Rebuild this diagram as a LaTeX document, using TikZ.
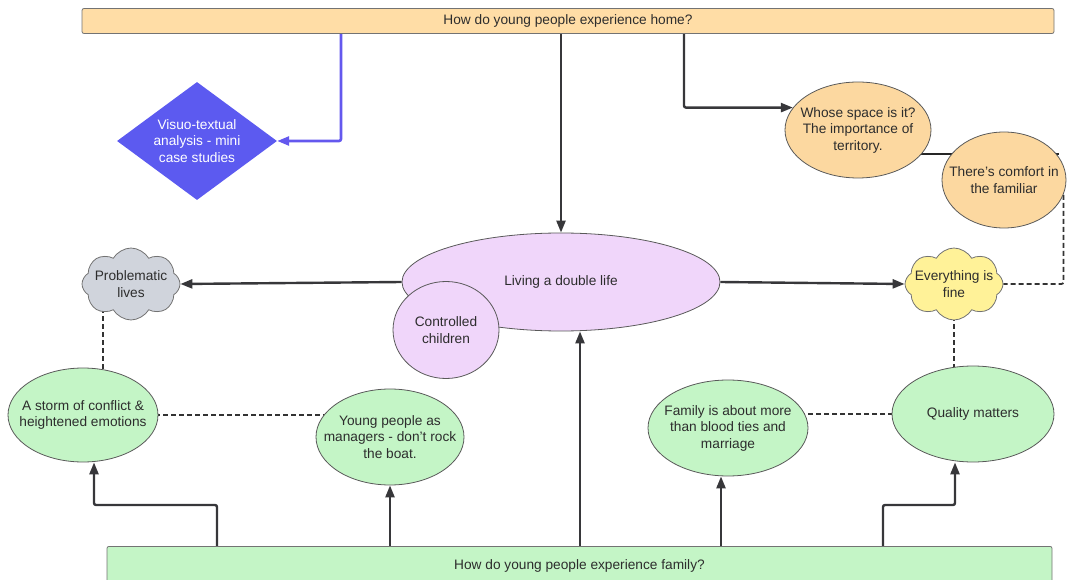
\documentclass[tikz,border=0pt]{standalone}
\usepackage{fontspec}
\setmainfont{Liberation Sans}
\usetikzlibrary{shapes.geometric,shapes.symbols,arrows.meta,backgrounds}
\definecolor{barorange}{RGB}{255,221,166}
\definecolor{ellorange}{RGB}{252,216,160}
\definecolor{diablue}{RGB}{92,90,240}
\definecolor{lineblue}{RGB}{100,88,238}
\definecolor{purp}{RGB}{240,214,250}
\definecolor{greenfill}{RGB}{196,245,198}
\definecolor{cloudgray}{RGB}{208,212,220}
\definecolor{cloudyellow}{RGB}{255,242,152}
\definecolor{txt}{RGB}{45,45,45}
\definecolor{lin}{RGB}{55,55,58}
\tikzset{
  box/.style={draw=black!55, line width=0.8pt, rounded corners=2pt, inner sep=0pt, text=txt},
  ell/.style={ellipse, draw=black!65, line width=0.8pt, inner xsep=-30pt, inner ysep=0pt, align=center, text=txt},
  cld/.style={cloud, cloud puffs=8, cloud puff arc=120, aspect=1.35, draw=black!55, line width=0.8pt, inner xsep=-14pt, inner ysep=-5pt, align=center, text=txt},
  conn/.style={draw=lin, line width=2.4pt, rounded corners=2pt, -{Triangle[length=12pt,width=9pt]}},
  bconn/.style={draw=lineblue, line width=2.6pt, rounded corners=2pt, -{Triangle[length=12pt,width=9pt]}},
  solidline/.style={draw=black!85, line width=2.2pt},
  dsh/.style={draw=black!80, line width=1.8pt, dash pattern=on 5pt off 3pt, rounded corners=2pt}
}
\begin{document}
\begin{tikzpicture}[x=1pt,y=-1pt, font=\fontsize{13.7}{16.5}\selectfont]
\useasboundingbox (0,0) rectangle (1077,580);
\clip (0,0) rectangle (1077,580);

% bars
\node[box, fill=barorange, minimum width=972pt, minimum height=25pt] (top) at (568,21) {How do young people experience home?};
\node[box, fill=greenfill, minimum width=945pt, minimum height=40pt, anchor=north] (bot) at (579.5,546) {How do young people experience family?};

% diamond
\node[diamond, fill=diablue, text=white, minimum width=160pt, minimum height=118pt, shape aspect=1.36, inner sep=0pt, align=center] (dia) at (197,141) {Visuo-textual\\analysis - mini\\case studies};

% home ellipses
\node[ell, fill=ellorange, minimum width=146pt, minimum height=96pt] (whose) at (858,130) {Whose space is it?\\The importance of\\territory.};
\node[ell, fill=ellorange, minimum width=124pt, minimum height=96pt] (comfort) at (1004,180) {There's comfort in\\the familiar};

% centre
\node[ell, fill=purp, minimum width=318pt, minimum height=98pt] (main) at (561,282) {Living a double life};
\node[ell, fill=purp, minimum width=106pt, minimum height=97pt] (ctrl) at (446,330) {Controlled\\children};

% clouds
\node[cld, fill=cloudgray, minimum width=98pt, minimum height=72pt] (prob) at (131,284) {Problematic\\lives};
\node[cld, fill=cloudyellow, minimum width=98pt, minimum height=72pt] (every) at (954,284) {Everything is\\fine};

% family ellipses
\node[ell, fill=greenfill, minimum width=150pt, minimum height=94pt] (storm) at (83,415) {A storm of conflict \&\\heightened emotions};
\node[ell, fill=greenfill, minimum width=148pt, minimum height=96pt] (mgr) at (390,437) {Young people as\\managers - don't rock\\the boat.};
\node[ell, fill=greenfill, minimum width=160pt, minimum height=96pt] (fam) at (728,428) {Family is about more\\than blood ties and\\marriage};
\node[ell, fill=greenfill, minimum width=162pt, minimum height=96pt] (qual) at (973,414) {Quality matters};

\coordinate (tb) at (341,33);
\coordinate (th) at (684,33);
\coordinate (b1) at (217,546);
\coordinate (b5) at (883,546);
\coordinate (m1) at ([xshift=19pt]main.south);

\begin{scope}[on background layer]
  % from top bar
  \draw[bconn] (tb) |- (dia.east);
  \draw[conn] (top.south -| main.north) -- (main.north);
  \draw[conn] (th) |- (whose.161);
  \draw[solidline] ([xshift=55pt,yshift=-24pt]whose.center) -- ([xshift=55pt,yshift=-24pt]whose.center -| comfort.center);
  \draw[dsh] (comfort.-14) |- (every.east);
  % centre to clouds
  \draw[conn] (main.west) -- (prob.east);
  \draw[conn] (main.east) -- (every.west);
  % dashed
  \draw[dsh] ([xshift=-28pt]prob.center) -- ([xshift=-28pt]prob.center |- storm.center);
  \draw[dsh] (every.center) -- (every.center |- qual.center);
  \draw[dsh] (storm.center) -- (storm.center -| mgr.center);
  \draw[dsh] (qual.center) -- (qual.center -| fam.center);
  % from bottom bar
  \draw[conn] (b1) -- ++(0,-41) -| ([xshift=11pt]storm.south);
  \draw[conn] (bot.north -| mgr.south) -- (mgr.south);
  \draw[conn] (m1 |- bot.north) -- (m1);
  \draw[conn] ([xshift=-7pt]fam.south |- bot.north) -- ([xshift=-7pt]fam.south);
  \draw[conn] (b5) -- ++(0,-41) -| ([xshift=-18pt]qual.south);
\end{scope}
\end{tikzpicture}
\end{document}
